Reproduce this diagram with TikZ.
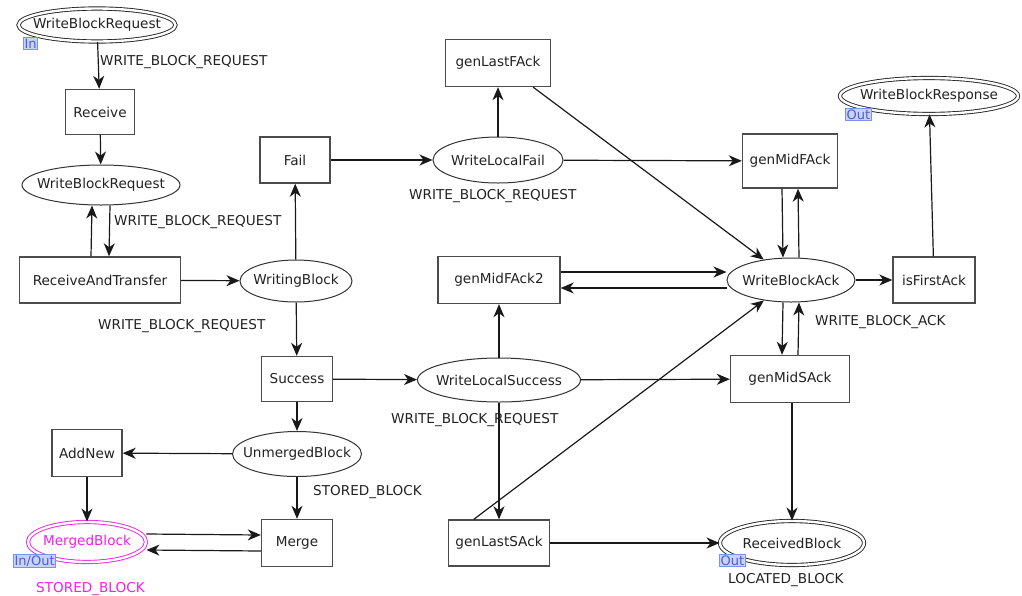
\documentclass[tikz,border=0pt]{standalone}
\usepackage{fontspec}
\setmainfont{DejaVu Sans}
\usetikzlibrary{arrows.meta,shapes.geometric}
\definecolor{tagfill}{HTML}{C8D3F7}
\definecolor{tagline}{HTML}{7B92E6}
\definecolor{tagtext}{HTML}{4B5FCF}
\definecolor{fusion}{HTML}{F21EE6}
\definecolor{ink}{HTML}{222222}
% place names are set in a zero-width box so the ellipse keeps its given size
\newcommand{\pname}[1]{\makebox[0pt]{#1}}
\begin{document}
\begin{tikzpicture}[x=1pt,y=-1pt,
  font=\fontsize{13.6}{16}\selectfont,
  trans/.style={rectangle,draw=black!70,line width=1.4pt,fill=white,inner sep=0pt,text=ink},
  place/.style={ellipse,draw=black!80,line width=1pt,fill=white,inner sep=0pt,text=ink},
  port/.style={ellipse,draw=black!85,double,double distance=2.4pt,line width=0.9pt,fill=white,inner sep=0pt,text=ink},
  tag/.style={rectangle,draw=tagline,fill=tagfill,text=tagtext,line width=0.8pt,inner sep=1.2pt,
    font=\fontsize{13}{14}\selectfont,anchor=north west},
  lbl/.style={anchor=west,inner sep=0pt,text=ink},
  arc/.style={draw=black!90,line width=1.2pt,-{Stealth[length=13pt,width=11pt,inset=4pt]}}
]
\useasboundingbox (0,0) rectangle (1022,595);

% places
\node[port,minimum width=157pt,minimum height=33pt] (wbrIn) at (97,25) {\pname{WriteBlockRequest}};
\node[place,minimum width=158pt,minimum height=40pt] (wbr) at (101,185) {\pname{WriteBlockRequest}};
\node[place,minimum width=112pt,minimum height=42pt] (wb) at (296,281) {\pname{WritingBlock}};
\node[place,minimum width=130pt,minimum height=46pt] (wlf) at (498,160) {\pname{WriteLocalFail}};
\node[port,minimum width=178pt,minimum height=36pt] (wbrOut) at (929,96) {\pname{WriteBlockResponse}};
\node[place,minimum width=128pt,minimum height=44pt] (wba) at (791,280) {\pname{WriteBlockAck}};
\node[place,minimum width=163pt,minimum height=44pt] (wls) at (499,380) {\pname{WriteLocalSuccess}};
\node[place,minimum width=129pt,minimum height=45pt] (umb) at (297,454) {\pname{UnmergedBlock}};
\node[port,draw=fusion,text=fusion,minimum width=118pt,minimum height=40pt] (mb) at (87,542) {\pname{MergedBlock}};
\node[port,minimum width=144pt,minimum height=44pt] (rb) at (792,543) {\pname{ReceivedBlock}};

% transitions
\node[trans,minimum width=69pt,minimum height=45pt] (recv) at (100,112) {Receive};
\node[trans,minimum width=161pt,minimum height=46pt] (rat) at (100,280) {ReceiveAndTransfer};
\node[trans,minimum width=70pt,minimum height=46pt] (fail) at (295,160) {Fail};
\node[trans,minimum width=105pt,minimum height=47pt] (glf) at (498,63) {genLastFAck};
\node[trans,minimum width=95pt,minimum height=54pt] (gmf) at (790,161) {genMidFAck};
\node[trans,minimum width=82pt,minimum height=46pt] (ifa) at (934,280) {isFirstAck};
\node[trans,minimum width=122pt,minimum height=47pt] (gmf2) at (499,280) {genMidFAck2};
\node[trans,minimum width=119pt,minimum height=47pt] (gms) at (790,379) {genMidSAck};
\node[trans,minimum width=71pt,minimum height=45pt] (succ) at (297,379) {Success};
\node[trans,minimum width=70pt,minimum height=47pt] (add) at (87,453) {AddNew};
\node[trans,minimum width=71pt,minimum height=47pt] (merge) at (297,543) {Merge};
\node[trans,minimum width=101pt,minimum height=46pt] (gls) at (499,543) {genLastSAck};

% port tags
\node[tag] (tIn) at (23,37) {In};
\node[tag] (tOut1) at (845,108) {Out};
\node[tag] (tOut2) at (719,554) {Out};
\node[tag] (tIO) at (13,554) {In/Out};

% arcs
\draw[arc] (wbrIn) -- (recv);
\draw[arc] (recv) -- (wbr);
\draw[arc] ([xshift=9pt]wbr.south) -- ([xshift=9pt]rat.north);
\draw[arc] ([xshift=-9pt]rat.north) -- ([xshift=-9pt]wbr.south);
\draw[arc] (rat) -- (wb);
\draw[arc] (wb) -- (fail);
\draw[arc] (wb) -- (succ);
\draw[arc] (fail) -- (wlf);
\draw[arc] (wlf) -- (glf);
\draw[arc] (wlf) -- (gmf);
\draw[arc] ([xshift=-18pt]glf.south east) -- (wba);
\draw[arc] ([xshift=-8pt]gmf.south) -- ([xshift=-8pt]wba.north);
\draw[arc] ([xshift=8pt]wba.north) -- ([xshift=8pt]gmf.south);
\draw[arc] (wba) -- (ifa);
\draw[arc] (ifa) -- (wbrOut);
\draw[arc] ([yshift=8pt]gmf2.east) -- ([yshift=8pt]wba.west);
\draw[arc] ([yshift=-8pt]wba.west) -- ([yshift=-8pt]gmf2.east);
\draw[arc] (wls) -- (gmf2);
\draw[arc] ([xshift=-8pt]wba.south) -- ([xshift=-8pt]gms.north);
\draw[arc] ([xshift=8pt]gms.north) -- ([xshift=8pt]wba.south);
\draw[arc] (succ) -- (wls);
\draw[arc] (wls) -- (gms);
\draw[arc] (wls) -- (gls);
\draw[arc] ([xshift=26pt]gls.north west) -- (wba);
\draw[arc] (gls) -- (rb);
\draw[arc] ([xshift=2pt]gms.south) -- (rb);
\draw[arc] (succ) -- (umb);
\draw[arc] (umb) -- (add);
\draw[arc] (umb) -- (merge);
\draw[arc] (add) -- (mb);
\draw[arc] ([yshift=8pt]mb.east) -- ([yshift=8pt]merge.west);
\draw[arc] ([yshift=-8pt]merge.west) -- ([yshift=-8pt]mb.east);

% inscriptions
\node[lbl] (l1) at (100,62) {WRITE\_BLOCK\_REQUEST};
\node[lbl] (l2) at (114,222) {WRITE\_BLOCK\_REQUEST};
\node[lbl] (l3) at (98,326) {WRITE\_BLOCK\_REQUEST};
\node[lbl] (l4) at (409,196) {WRITE\_BLOCK\_REQUEST};
\node[lbl] (l5) at (391,420) {WRITE\_BLOCK\_REQUEST};
\node[lbl] (l6) at (313,492) {STORED\_BLOCK};
\node[lbl] (l7) at (815,322) {WRITE\_BLOCK\_ACK};
\node[lbl] (l8) at (728,580) {LOCATED\_BLOCK};
\node[lbl,text=fusion] (l9) at (36,589) {STORED\_BLOCK};
\end{tikzpicture}
\end{document}
